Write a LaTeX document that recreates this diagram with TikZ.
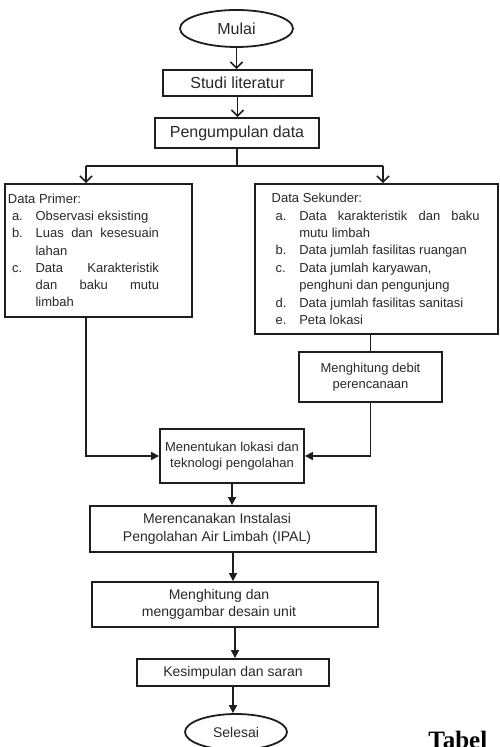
\documentclass[tikz,border=0pt]{standalone}
\usepackage{fontspec}
\setmainfont{Liberation Sans}
\newfontfamily\tabelfont{Liberation Serif}
\usetikzlibrary{arrows.meta,shapes.geometric}
\definecolor{inkline}{RGB}{30,30,30}
\definecolor{inktext}{RGB}{40,40,40}
\newcommand{\listitm}[2]{\par\hangindent=13.8pt\hangafter=1\hspace*{2pt}\makebox[11.8pt][l]{#1}#2}
\newcommand{\listset}{\rightskip=0pt\parfillskip=0pt plus 1fil\spaceskip=0pt\xspaceskip=0pt\hyphenpenalty=10000\relax}
\newcommand{\padr}{\hspace*{16pt}}

\begin{document}
\begin{tikzpicture}[x=0.5pt,y=-0.5pt,line join=miter]
\tikzset{box/.style={draw=inkline,line width=0.9pt,rectangle,inner sep=1.5pt,text=inktext,align=center},
  term/.style={draw=inkline,line width=0.9pt,ellipse,inner sep=0pt,text=inktext},
  big/.style={font=\fontsize{8pt}{9.5pt}\selectfont},
  mid/.style={font=\fontsize{7pt}{8.8pt}\selectfont},
  small/.style={font=\fontsize{6.5pt}{7.8pt}\selectfont},
  barb/.style={draw=inkline,line width=0.8pt,-{Straight Barb[length=3pt,width=6pt]}},
  tri/.style={draw=inkline,line width=0.8pt,-{Triangle[length=4pt,width=4pt]}},
  wire/.style={draw=inkline,line width=0.8pt}}
\useasboundingbox (0,0) rectangle (499,747);

\node[term,big,minimum width=56.5pt,minimum height=18.5pt] (mulai) at (236.5,28.5) {Mulai};
\node[box,big,minimum width=74.5pt,minimum height=13pt] (studi) at (237.5,83) {Studi literatur};
\node[box,big,minimum width=82pt,minimum height=15pt] (kumpul) at (237,133) {Pengumpulan data};
\node[box,minimum width=93.5pt,minimum height=66.5pt,text width=90.5pt,align=left] (primer) at (98.5,250.5) {%
  \fontsize{6.5pt}{8.6pt}\selectfont\noindent\parbox{75.5pt}{\listset Data Primer:
  \listitm{a.}{Observasi eksisting}
  \listitm{b.}{Luas dan kesesuain\linebreak lahan}
  \listitm{c.}{Data Karakteristik\linebreak dan baku mutu\linebreak limbah}}};
\node[box,minimum width=121.5pt,minimum height=75pt,text width=118.5pt,align=left] (sekunder) at (376.5,259) {%
  \fontsize{6.5pt}{8.7pt}\selectfont\noindent\hspace*{6.85pt}\parbox{104pt}{\listset Data Sekunder:
  \listitm{a.}{Data karakteristik dan baku\linebreak mutu limbah}
  \listitm{b.}{Data jumlah fasilitas ruangan}
  \listitm{c.}{Data jumlah karyawan,\newline penghuni dan pengunjung}
  \listitm{d.}{Data jumlah fasilitas sanitasi}
  \listitm{e.}{Peta lokasi}}};
\node[box,small,minimum width=71.5pt,minimum height=25pt] (debit) at (370.5,377) {Menghitung debit\\perencanaan};
\node[box,small,minimum width=72pt,minimum height=27pt] (tentukan) at (232,456) {Menentukan lokasi dan\\teknologi pengolahan};
\node[box,mid,minimum width=143pt,minimum height=23pt] (rencana) at (233,529) {Merencanakan Instalasi\padr\\Pengolahan Air Limbah (IPAL)\padr};
\node[box,mid,minimum width=143pt,minimum height=22.5pt] (gambar) at (235,604.5) {Menghitung dan\padr\\menggambar desain unit\padr};
\node[box,mid,minimum width=96pt,minimum height=13.5pt] (simpul) at (233,672.5) {Kesimpulan dan saran};
\node[term,mid,minimum width=51pt,minimum height=18pt] (selesai) at (236,732) {Selesai};
\node[font=\tabelfont\bfseries\fontsize{12.5pt}{14pt}\selectfont,anchor=base west,inner sep=0pt] (tabel) at (428,748) {Tabel};

\coordinate (split) at (237,166);
\coordinate (splitl) at (86,166);
\coordinate (splitr) at (383,166);
\draw[barb] (mulai.south) -- (mulai.south |- studi.north);
\draw[barb] (studi.south) -- (studi.south |- kumpul.north);
\draw[wire] (kumpul.south) -- (kumpul.south |- split);
\draw[wire] (splitl) -- (splitr);
\draw[barb] (splitl) -- (splitl |- primer.north);
\draw[barb] (splitr) -- (splitr |- sekunder.north);
\draw[tri] (splitl |- primer.south) |- (tentukan.west);
\draw[wire] (debit.north |- sekunder.south) -- (debit.north);
\draw[tri] (debit.south) |- (tentukan.east);
\draw[tri] (tentukan.south) -- (tentukan.south |- rencana.north);
\draw[tri] (rencana.south) -- (rencana.south |- gambar.north);
\draw[tri] (gambar.south) -- (gambar.south |- simpul.north);
\draw[tri] (simpul.south) -- (simpul.south |- selesai.north);
\end{tikzpicture}
\end{document}
